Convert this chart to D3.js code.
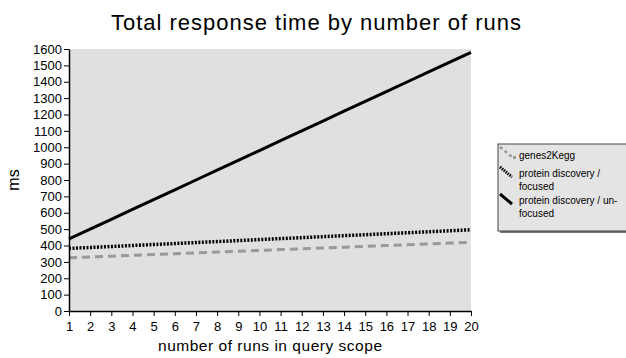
<!DOCTYPE html>
<html><head><meta charset="utf-8">
<script src="https://cdn.jsdelivr.net/npm/d3@7"></script>
<style>body{margin:0;background:#fff}text{font-family:"Liberation Sans",Arial,sans-serif}</style>
</head><body><svg id="c" width="626" height="358"></svg>
<script>
const runs = [1,2,3,4,5,6,7,8,9,10,11,12,13,14,15,16,17,18,19,20];
const genes2Kegg = [325,330,335,340,345,350,355,360,365,370,375,380,385,390,395,400,405,410,415,420];
const focused = [382,388,394,400,406,412,418,424,430,436,442,448,454,460,466,472,478,484,490,496];
const unfocused = [440,500,560,620,680,740,800,860,920,980,1040,1100,1160,1220,1280,1340,1400,1460,1520,1580];
const yTicks = [0,100,200,300,400,500,600,700,800,900,1000,1100,1200,1300,1400,1500,1600];
const seriesNames = ["genes2Kegg","protein discovery / focused","protein discovery / un-focused"];

const svg = d3.select("#c");
const L=69,R=471,T=49,B=311;
const x = d3.scaleLinear().domain([1,20]).range([L,R]);
const y = d3.scaleLinear().domain([0,1600]).range([B,T]);

svg.append("rect").attr("x",L).attr("y",T).attr("width",R-L).attr("height",B-T).attr("fill","#e0e0e0");

const line = d3.line().x((d,i)=>x(runs[i])).y(d=>y(d));
svg.append("path").datum(genes2Kegg).attr("d",line).attr("fill","none")
  .attr("stroke","#999").attr("stroke-width",3).attr("stroke-dasharray","8,5");
svg.append("path").datum(focused).attr("d",line).attr("fill","none")
  .attr("stroke","#000").attr("stroke-width",3.5).attr("stroke-dasharray","2,1.5");
svg.append("path").datum(unfocused).attr("d",line).attr("fill","none")
  .attr("stroke","#000").attr("stroke-width",3);

const ya = svg.append("g").attr("transform",`translate(${L},0)`)
  .call(d3.axisLeft(y).tickValues(yTicks).tickFormat(d3.format("d")).tickSize(5).tickPadding(2).tickSizeOuter(0));
const xa = svg.append("g").attr("transform",`translate(0,${B})`)
  .call(d3.axisBottom(x).tickValues(runs).tickFormat(d3.format("d")).tickSize(5).tickPadding(6).tickSizeOuter(0));
[ya,xa].forEach(a=>{
  a.selectAll("text").attr("font-size",13).attr("fill","#000").attr("font-family","Liberation Sans, Arial, sans-serif");
  a.selectAll("line").attr("stroke","#000").attr("stroke-width",1);
  a.select(".domain").attr("stroke","#000").attr("stroke-width",1.5);
});

svg.append("text").attr("x",316).attr("y",30).attr("text-anchor","middle").attr("font-size",22)
  .attr("textLength",410).attr("lengthAdjust","spacing").text("Total response time by number of runs");
svg.append("text").attr("x",270).attr("y",351).attr("text-anchor","middle").attr("font-size",15.5)
  .attr("textLength",224).attr("lengthAdjust","spacing").text("number of runs in query scope");
svg.append("text").attr("transform","translate(19,180) rotate(-90)").attr("text-anchor","middle").attr("font-size",16).text("ms");

// legend
const lg = svg.append("g");
lg.append("rect").attr("x",500).attr("y",146).attr("width",140).attr("height",87).attr("fill","#777");
lg.append("rect").attr("x",498).attr("y",144).attr("width",140).attr("height",87).attr("fill","#e4e4e4").attr("stroke","#444").attr("stroke-width",1);
const items = [
  {lines:["genes2Kegg"], y:159, color:"#999", dash:"3,3", w:2.5, sy:147},
  {lines:["protein discovery /","focused"], y:177, color:"#000", dash:"1.5,1", w:3, sy:167},
  {lines:["protein discovery / un-","focused"], y:204, color:"#000", dash:null, w:3, sy:194}
];
items.forEach((it,i)=>{
  const p = lg.append("line").attr("x1",500).attr("y1",it.sy).attr("x2",512).attr("y2",it.sy+10)
    .attr("stroke",it.color).attr("stroke-width",it.w);
  if(it.dash) p.attr("stroke-dasharray",it.dash);
  if(i===0) lg.append("rect").attr("x",513).attr("y",it.sy+9).attr("width",3).attr("height",3).attr("fill","#999");
  it.lines.forEach((t,j)=>lg.append("text").attr("x",519).attr("y",it.y+j*13).attr("font-size",10).text(t));
});
</script></body></html>
